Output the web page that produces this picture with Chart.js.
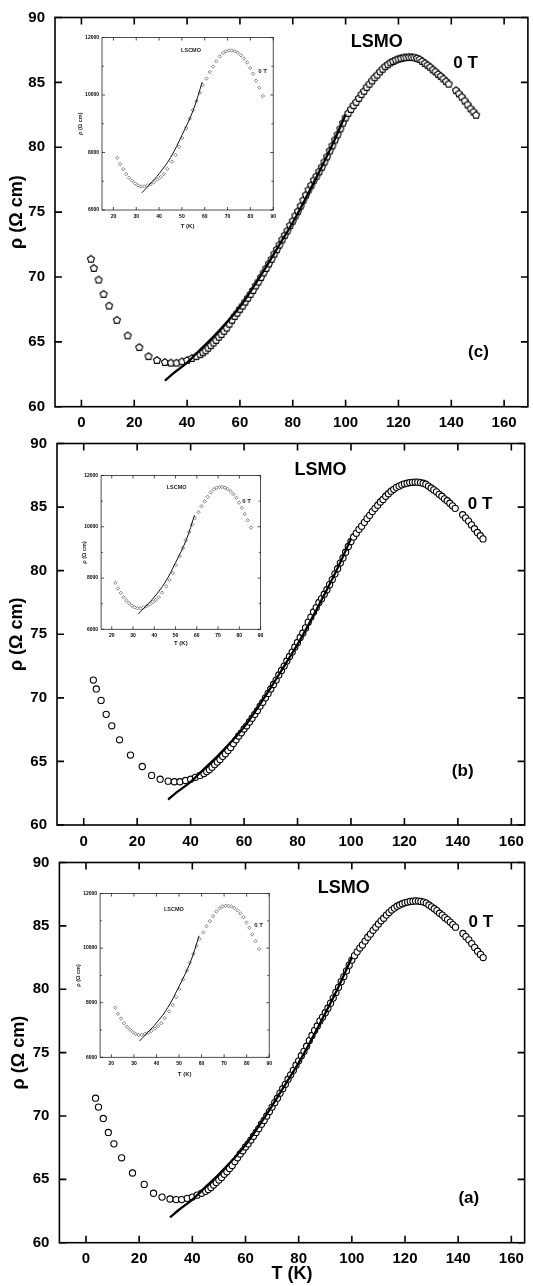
<!DOCTYPE html>
<html>
<head>
<meta charset="utf-8">
<script src="https://cdn.jsdelivr.net/npm/chart.js@4.4.1/dist/chart.umd.min.js"></script>
<style>
  html, body { margin: 0; padding: 0; background: #fff; }
  #wrap { position: relative; width: 533px; height: 1286px; overflow: hidden; }
  canvas { position: absolute; }
</style>
</head>
<body>
<div id="wrap">
  <canvas id="mainC" width="533" height="431" style="left:0;top:0"></canvas>
  <canvas id="mainB" width="533" height="424" style="left:0;top:426px"></canvas>
  <canvas id="mainA" width="533" height="441" style="left:0;top:845px"></canvas>
  <canvas id="insetC" width="204" height="201" style="left:76px;top:32px"></canvas>
  <canvas id="insetB" width="192" height="182" style="left:75px;top:470px"></canvas>
  <canvas id="insetA" width="202" height="192" style="left:74px;top:888px"></canvas>
</div>
<script>
// ---- main panel data (LSMO, 0 T), same curve in (a), (b), (c) ----
const tempK = [3.6, 4.7, 6.5, 8.4, 10.5, 13.4, 17.5, 21.9, 25.4, 28.6, 31.6, 33.9, 36.0, 38.1, 40.0, 41.8, 43.5,
  45, 46, 47, 48, 49, 50, 51, 52, 53, 54,
  55, 56, 57, 58, 59, 60, 61, 62, 63, 64,
  65, 66, 67, 68, 69, 70, 71, 72, 73, 74,
  75, 76, 77, 78, 79, 80, 81, 82, 83, 84,
  85, 86, 87, 88, 89, 90, 91, 92, 93, 94,
  95, 96, 97, 98, 99, 100, 101, 102, 103, 104,
  105, 106, 107, 108, 109, 110, 111, 112, 113, 114,
  115, 116, 117, 118, 119, 120, 121, 122, 123, 124,
  125, 126, 127, 128, 129, 130, 131, 132, 133, 134,
  135, 136, 137, 138, 139,
  141.8, 142.9, 144.0, 145.1, 146.2, 147.3, 148.4, 149.4];
const rhoMain = [71.4, 70.7, 69.8, 68.7, 67.8, 66.7, 65.5, 64.6, 63.9, 63.6, 63.45, 63.4, 63.4, 63.5, 63.6, 63.75, 63.9,
  64.05, 64.2, 64.35, 64.55, 64.75, 64.95, 65.15, 65.4, 65.6, 65.85,
  66.1, 66.4, 66.7, 67.0, 67.25, 67.55, 67.8, 68.1, 68.4, 68.7,
  69.0, 69.35, 69.65, 70.0, 70.35, 70.7, 71.05, 71.4, 71.8, 72.15,
  72.5, 72.9, 73.25, 73.6, 74.0, 74.35, 74.75, 75.1, 75.5, 75.95,
  76.35, 76.75, 77.1, 77.5, 77.8, 78.15, 78.5, 78.9, 79.3, 79.75,
  80.15, 80.6, 81.0, 81.45, 81.9, 82.3, 82.65, 82.95, 83.25, 83.5,
  83.8, 84.1, 84.35, 84.65, 84.9, 85.15, 85.4, 85.6, 85.85, 86.05,
  86.25, 86.4, 86.55, 86.65, 86.75, 86.83, 86.88, 86.93, 86.95, 86.97,
  86.96, 86.93, 86.88, 86.8, 86.65, 86.5, 86.35, 86.2, 86.0, 85.85,
  85.65, 85.5, 85.3, 85.1, 84.9,
  84.4, 84.15, 83.9, 83.6, 83.3, 83.0, 82.75, 82.5];
// fitted curve (solid line)
const fitT = [31.6, 35, 40, 45, 50, 55, 60, 65, 70, 75, 80, 85, 90, 95, 100];
const fitRho = [62.0, 62.6, 63.4, 64.4, 65.4, 66.5, 67.7, 69.2, 70.8, 72.5, 74.2, 76.1, 78.1, 80.2, 82.5];
const xTicksMain = [0, 20, 40, 60, 80, 100, 120, 140, 160];
const yTicksMain = [60, 65, 70, 75, 80, 85, 90];

// ---- inset data (LSCMO, 0 T) ----
const insetT = [21.7, 22.9, 24.3, 25.6, 26.9, 28.2, 29.5, 30.8, 32.1, 33.5, 34.9, 36.4, 37.8, 39.3, 40.7, 42.1, 43.6,
  45.6, 47.2, 48.7, 50.2, 51.9, 53.5, 54.8, 56.4, 57.8, 59.1, 60.8, 62.2, 63.7, 65.1, 66.6, 68.0, 69.3, 70.6, 71.9,
  73.2, 74.5, 75.9, 77.2, 78.6, 79.9, 81.2, 82.5, 83.9, 85.5];
const insetRho = [7815, 7595, 7420, 7250, 7120, 7020, 6925, 6855, 6820, 6820, 6855, 6900, 6970, 7060, 7145, 7250, 7430,
  7680, 7920, 8200, 8500, 8850, 9180, 9470, 9790, 10080, 10340, 10570, 10800, 10990, 11170, 11340, 11460, 11525, 11550, 11550,
  11525, 11470, 11380, 11270, 11130, 10940, 10740, 10500, 10250, 9965];
const fitInT = [32.5, 36, 40, 45, 50, 55, 58.9];
const fitInRho = [6600, 6900, 7260, 7820, 8600, 9480, 10450];
const xTicksInset = [20, 30, 40, 50, 60, 70, 80, 90];
const yTicksInset = [6000, 8000, 10000, 12000];
const yMinorInset = [7000, 9000, 11000];

const FAMILY = '"Liberation Sans", Arial, sans-serif';

// Box frame + inward tick marks on all four sides, plus free text notes.
const framePlugin = {
  id: "frame",
  afterDatasetsDraw(chart, args, o) {
    const { ctx, chartArea: a, scales: { x, y } } = chart;
    ctx.save();
    ctx.strokeStyle = o.color;
    ctx.lineWidth = o.lineWidth;
    ctx.beginPath();
    x.ticks.forEach((t) => {
      const px = x.getPixelForValue(t.value);
      ctx.moveTo(px, a.bottom); ctx.lineTo(px, a.bottom - o.len);
      ctx.moveTo(px, a.top); ctx.lineTo(px, a.top + o.len);
    });
    y.ticks.forEach((t) => {
      const py = y.getPixelForValue(t.value);
      ctx.moveTo(a.left, py); ctx.lineTo(a.left + o.len, py);
      ctx.moveTo(a.right, py); ctx.lineTo(a.right - o.len, py);
    });
    (o.minorY || []).forEach((v) => {
      const py = y.getPixelForValue(v);
      ctx.moveTo(a.left, py); ctx.lineTo(a.left + o.len * 0.6, py);
      ctx.moveTo(a.right, py); ctx.lineTo(a.right - o.len * 0.6, py);
    });
    ctx.stroke();
    ctx.strokeRect(a.left, a.top, a.right - a.left, a.bottom - a.top);
    ctx.textAlign = "center";
    ctx.textBaseline = "middle";
    (o.notes || []).forEach((n) => {
      ctx.font = "bold " + n.size + "px " + FAMILY;
      ctx.fillStyle = n.color || "#000";
      ctx.fillText(n.text, x.getPixelForValue(n.x), y.getPixelForValue(n.y));
    });
    ctx.restore();
  },
};

// open pentagon marker for panel (c)
function pentagon(r, lw) {
  const c = document.createElement("canvas");
  const s = 2 * Math.ceil(r + lw);
  c.width = c.height = s;
  const g = c.getContext("2d");
  g.beginPath();
  for (let k = 0; k < 5; k++) {
    const ang = -Math.PI / 2 + (k * 2 * Math.PI) / 5;
    const px = s / 2 + r * Math.cos(ang);
    const py = s / 2 + 0.4 + r * Math.sin(ang);
    if (k) g.lineTo(px, py); else g.moveTo(px, py);
  }
  g.closePath();
  g.fillStyle = "#fff";
  g.fill();
  g.lineWidth = lw;
  g.strokeStyle = "#000";
  g.stroke();
  return c;
}

function axis(min, max, tickVals, size, pad, fit, extra) {
  return Object.assign({
    type: "linear",
    min, max,
    afterBuildTicks: (s) => { s.ticks = tickVals.map((v) => ({ value: v })); },
    grid: { display: false, drawTicks: false },
    border: { display: false },
    ticks: { padding: pad, color: "#000", font: { family: FAMILY, size, weight: "bold", lineHeight: 1 }, callback: (v) => String(v) },
  }, fit, extra);
}

function buildMain(id, cfg) {
  const pts = tempK.map((t, i) => ({ x: t, y: rhoMain[i] }));
  const fit = fitT.map((t, i) => ({ x: t, y: fitRho[i] }));
  new Chart(document.getElementById(id), {
    type: "scatter",
    data: {
      datasets: [
        { data: fit, showLine: true, borderColor: "#000", borderWidth: 2.3, pointRadius: 0, tension: 0.4, fill: false },
        { data: pts, pointStyle: cfg.marker, pointRadius: 3.1, borderColor: "#000", borderWidth: 1.1, backgroundColor: "#fff" },
      ],
    },
    options: {
      responsive: false,
      animation: false,
      events: [],
      layout: { padding: cfg.pad },
      plugins: {
        legend: { display: false },
        tooltip: { enabled: false },
        frame: { len: 7, lineWidth: 1.6, color: "#000", notes: cfg.notes },
      },
      scales: {
        x: axis(-10, cfg.xMax, xTicksMain, 15, 9, { afterFit: (s) => { s.height = cfg.xH; } }, {
          title: { display: !!cfg.xTitle, text: "T (K)", color: "#000", padding: { top: 0, bottom: 1 }, font: { family: FAMILY, size: 18, weight: "bold" } },
        }),
        y: axis(60, 90, yTicksMain, 15, 10, { afterFit: (s) => { s.width = cfg.yW; } }, {
          title: { display: true, text: "ρ (Ω cm)", color: "#000", padding: { top: cfg.yTitlePad, bottom: 0 }, font: { family: FAMILY, size: 18, weight: "bold" } },
        }),
      },
    },
    plugins: [framePlugin],
  });
}

function buildInset(id, cfg) {
  const pts = insetT.map((t, i) => ({ x: t, y: insetRho[i] }));
  const fit = fitInT.map((t, i) => ({ x: t, y: fitInRho[i] }));
  new Chart(document.getElementById(id), {
    type: "scatter",
    data: {
      datasets: [
        { data: fit, showLine: true, borderColor: "#111", borderWidth: 1, pointRadius: 0, tension: 0.4, fill: false },
        { data: pts, pointStyle: "rectRot", pointRadius: 1.7, borderColor: "#666", borderWidth: 0.8, backgroundColor: "#fff" },
      ],
    },
    options: {
      responsive: false,
      animation: false,
      events: [],
      layout: { padding: cfg.pad },
      plugins: {
        legend: { display: false },
        tooltip: { enabled: false },
        frame: { len: 3, lineWidth: 0.8, color: "#222", minorY: yMinorInset, notes: cfg.notes },
      },
      scales: {
        x: axis(15, 90, xTicksInset, 5, cfg.xLabPad, { afterFit: (s) => { s.height = cfg.xH; } }, {
          title: { display: true, text: "T (K)", color: "#222", padding: { top: 0, bottom: cfg.xTitlePad }, font: { family: FAMILY, size: 6, weight: "bold" } },
        }),
        y: axis(6000, 12000, yTicksInset, 5, 3, { afterFit: (s) => { s.width = cfg.yW; } }, {
          title: { display: true, text: "ρ (Ω cm)", color: "#222", padding: { top: cfg.yTitlePad, bottom: 0 }, font: { family: FAMILY, size: 5.5, weight: "bold" } },
        }),
      },
    },
    plugins: [framePlugin],
  });
}

buildMain("mainC", {
  marker: pentagon(3.7, 1.1), xMax: 169, yW: 55, xH: 24.3, yTitlePad: 6,
  pad: { top: 12.7, right: 2.3, left: 0, bottom: 0 },
  notes: [
    { text: "LSMO", x: 111.8, y: 88.1, size: 18 },
    { text: "0 T", x: 145.4, y: 86.5, size: 17 },
    { text: "(c)", x: 150.3, y: 64.2, size: 17 },
  ],
});
buildMain("mainB", {
  marker: "circle", xMax: 165, yW: 57, xH: 25, yTitlePad: 6,
  pad: { top: 12.3, right: 5.7, left: 0, bottom: 0 },
  notes: [
    { text: "LSMO", x: 88.6, y: 87.9, size: 18 },
    { text: "0 T", x: 148.3, y: 85.2, size: 17 },
    { text: "(b)", x: 141.8, y: 64.2, size: 17 },
  ],
});
buildMain("mainA", {
  marker: "circle", xMax: 165, yW: 59.4, xH: 43.3, yTitlePad: 8, xTitle: true,
  pad: { top: 11.7, right: 2.3, left: 0, bottom: 0 },
  notes: [
    { text: "LSMO", x: 97, y: 88.0, size: 18 },
    { text: "0 T", x: 148.5, y: 85.3, size: 17 },
    { text: "(a)", x: 144, y: 63.5, size: 17 },
  ],
});

buildInset("insetC", {
  yW: 26, xH: 23, xLabPad: 4, xTitlePad: 2.7, yTitlePad: 0.7,
  pad: { top: 4.7, right: 3, left: 0, bottom: 0 },
  notes: [
    { text: "LSCMO", x: 54, y: 11540, size: 5.5, color: "#222" },
    { text: "0 T", x: 85.3, y: 10824, size: 6, color: "#222" },
  ],
});
buildInset("insetB", {
  yW: 26.1, xH: 22.7, xLabPad: 3.6, xTitlePad: 5.1, yTitlePad: 5.7,
  pad: { top: 5, right: 3, left: 0, bottom: 0 },
  notes: [
    { text: "LSCMO", x: 50.5, y: 11545, size: 5.5, color: "#222" },
    { text: "0 T", x: 83.4, y: 11000, size: 6, color: "#222" },
  ],
});
buildInset("insetA", {
  yW: 26.1, xH: 22.7, xLabPad: 4, xTitlePad: 2.1, yTitlePad: 1.4,
  pad: { top: 4.7, right: 2.8, left: 0, bottom: 0 },
  notes: [
    { text: "LSCMO", x: 47.7, y: 11431, size: 5.5, color: "#222" },
    { text: "0 T", x: 85.3, y: 10848, size: 6, color: "#222" },
  ],
});
</script>
</body>
</html>
